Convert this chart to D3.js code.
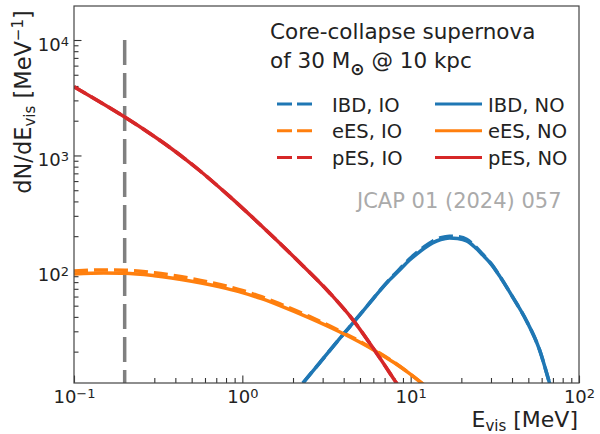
<!DOCTYPE html>
<meta http-equiv="content-type" content="text/html; charset=utf-8">
<style>
body { margin: 0; background: #fff; }
svg { font-family: "DejaVu Sans", sans-serif; }
.tick line { stroke: #333; stroke-width: 1.1; }
.curve { fill: none; stroke-width: 3.5; }
</style>
<body>
<div id="chart"></div>
<script src="https://d3js.org/d3.v7.min.js"></script>
<script>
// energies (MeV) and dN/dE (1/MeV)
var ibdE  = [2.29, 2.88, 3.95, 4.65, 5.71, 6.55, 7.5, 8.61, 9.86, 10.86, 12.1, 13.5, 15.1, 17.0, 19.0, 21.5, 24.0, 26.7, 30.3, 33.7, 40.3, 48.8, 58.3, 66.8, 71.6];
var ibdNO = [10.7, 16.0, 27.9, 36.9, 52.8, 67.1, 83.6, 102, 124.5, 140, 158, 175, 187, 193, 191, 182, 161, 138, 113, 90.6, 59.6, 36.9, 20.7, 10.7, 7.6];
var ibdIO = [10.7, 16.0, 27.9, 36.9, 52.8, 67.5, 84.5, 104, 127.5, 144, 163, 181, 194, 200, 198, 188, 165, 140, 114, 91, 59.6, 36.9, 20.7, 10.7, 7.6];

var eesE  = [0.1, 0.15, 0.2, 0.3, 0.5, 0.8, 1.0, 1.3, 1.7, 2.5, 3.8, 5.0, 6.3, 8.0, 10.0, 11.8, 12.5];
var eesNO = [94, 95.8, 95.5, 91.0, 81.3, 70.6, 64.9, 57.5, 49.6, 39.2, 29.6, 24.1, 19.9, 16.0, 12.7, 10.5, 9.8];
var eesIO = [100.1, 102, 101.5, 96.5, 85.8, 74.1, 67.8, 59.8, 51.3, 40.4, 30.2, 24.5, 20.1, 16.1, 12.7, 10.5, 9.8];

var pesE  = [0.1, 0.1427, 0.198, 0.2825, 0.3713, 0.456, 0.5595, 0.6868, 0.843, 1.27, 2.106, 3.306, 4.527, 5.951, 8.26, 9.21];
var pesNO = [3945, 2905, 2172, 1550, 1173, 936, 737, 572, 440, 253.7, 125, 64.4, 37.9, 21.7, 10.6, 8.34];
var pesIO = [3945, 2905, 2172, 1550, 1173, 936, 737, 572, 440, 253.7, 125, 64.4, 37.9, 21.7, 10.6, 8.34];

var thresholdE = 0.2;           // vertical dashed line
var thresholdTop = 1e4;

var xLim = [0.1, 100];
var yLim = [10.7, 19700];
var xMajor = [0.1, 1, 10, 100];
var yMajor = [100, 1000, 10000];

var legendRows = ["IBD", "eES", "pES"];
var colors = { IBD: "#1f77b4", eES: "#ff7f0e", pES: "#d62728" };

var width = 600, height = 434;
var mLeft = 74, mRight = 579, mTop = 6, mBottom = 383;

var svg = d3.select("#chart").append("svg")
    .attr("width", width)
    .attr("height", height);

var x = d3.scaleLog().domain(xLim).range([mLeft, mRight]);
var y = d3.scaleLog().domain(yLim).range([mBottom, mTop]);

function minors(lo, hi) {
  var out = [];
  for (var p = -2; p <= 5; p++) {
    for (var m = 2; m <= 9; m++) {
      var v = m * Math.pow(10, p);
      if (v > lo && v < hi) out.push(v);
    }
  }
  return out;
}

function expLabel(sel) {
  sel.each(function(d) {
    var t = d3.select(this);
    var e = Math.round(Math.log10(d));
    t.text(null);
    t.append("tspan").text("10");
    t.append("tspan").attr("font-size", "13px").attr("dy", -5)
      .text(e < 0 ? "\u2212" + (-e) : e);
  });
}

svg.append("clipPath").attr("id", "plot")
  .append("rect")
    .attr("x", mLeft).attr("y", mTop)
    .attr("width", mRight - mLeft).attr("height", mBottom - mTop);

// minor ticks
svg.append("g").attr("transform", "translate(0," + mBottom + ")")
  .call(d3.axisBottom(x).tickValues(minors(xLim[0], xLim[1])).tickSize(-5).tickFormat(""))
  .select(".domain").remove();
svg.append("g").attr("transform", "translate(" + mLeft + ",0)")
  .call(d3.axisLeft(y).tickValues(minors(yLim[0], yLim[1])).tickSize(-4.5).tickFormat(""))
  .select(".domain").remove();

// major ticks + labels
var gx = svg.append("g").attr("transform", "translate(0," + mBottom + ")")
  .call(d3.axisBottom(x).tickValues(xMajor).tickSize(-7.5))
  .attr("font-size", "18px").attr("font-family", null);
gx.select(".domain").remove();
gx.selectAll(".tick text").attr("y", 19.5).attr("dy", 0).attr("fill", "#222").call(expLabel);

var gy = svg.append("g").attr("transform", "translate(" + mLeft + ",0)")
  .call(d3.axisLeft(y).tickValues(yMajor).tickSize(-7.5))
  .attr("font-size", "18px").attr("font-family", null);
gy.select(".domain").remove();
gy.selectAll(".tick text").attr("x", -5).attr("dy", 10).attr("fill", "#222").call(expLabel);

// curves
var line = d3.line()
    .x(function(d) { return x(d[0]); })
    .y(function(d) { return y(d[1]); })
    .curve(d3.curveMonotoneX);

var series = [
  { key: "IBD", E: ibdE, IO: ibdIO, NO: ibdNO },
  { key: "eES", E: eesE, IO: eesIO, NO: eesNO },
  { key: "pES", E: pesE, IO: pesIO, NO: pesNO }
];

var plot = svg.append("g").attr("clip-path", "url(#plot)");

plot.append("line")
    .attr("x1", x(thresholdE)).attr("x2", x(thresholdE))
    .attr("y1", y(thresholdTop)).attr("y2", mBottom)
    .attr("stroke", "#808080")
    .attr("stroke-width", 3.5)
    .attr("stroke-dasharray", "25,8");

series.forEach(function(s) {
  plot.append("path")
    .attr("class", "curve")
    .attr("stroke", colors[s.key])
    .attr("stroke-dasharray", "14,6")
    .attr("d", line(s.E.map(function(e, i) { return [e, s.IO[i]]; })));
});
series.forEach(function(s) {
  plot.append("path")
    .attr("class", "curve")
    .attr("stroke", colors[s.key])
    .attr("d", line(s.E.map(function(e, i) { return [e, s.NO[i]]; })));
});

// frame
svg.append("rect")
    .attr("x", mLeft).attr("y", mTop)
    .attr("width", mRight - mLeft).attr("height", mBottom - mTop)
    .attr("fill", "none")
    .attr("stroke", "#444")
    .attr("stroke-width", 1.2);

// axis titles
var xt = svg.append("text")
    .attr("x", 578).attr("y", 427)
    .attr("text-anchor", "end")
    .attr("font-size", "22px")
    .attr("fill", "#222");
xt.append("tspan").text("E");
xt.append("tspan").attr("font-size", "15px").attr("dy", 4).text("vis");
xt.append("tspan").attr("dy", -4).text(" [MeV]");

var yt = svg.append("text")
    .attr("transform", "translate(31,102) rotate(-90)")
    .attr("text-anchor", "middle")
    .attr("font-size", "22.5px")
    .attr("fill", "#222");
yt.append("tspan").text("dN/dE");
yt.append("tspan").attr("font-size", "15px").attr("dy", 4).text("vis");
yt.append("tspan").attr("dy", -4).text(" [MeV");
yt.append("tspan").attr("font-size", "15px").attr("dy", -8).text("\u22121");
yt.append("tspan").attr("dy", 8).text("]");

// legend
var lg = svg.append("g").attr("fill", "#222");
lg.append("text").attr("x", 270).attr("y", 39).attr("font-size", "21.5px")
    .text("Core-collapse supernova");
var t2 = lg.append("text").attr("x", 270).attr("y", 68).attr("font-size", "21.5px");
t2.append("tspan").text("of 30 M");
t2.append("tspan").attr("font-size", "17px").attr("font-weight", "bold").attr("dy", 7).text("\u2299");
t2.append("tspan").attr("dy", -7).text(" @ 10 kpc");

legendRows.forEach(function(k, i) {
  var cy = 104 + i * 26.7;
  lg.append("line").attr("x1", 277).attr("x2", 312).attr("y1", cy).attr("y2", cy)
    .attr("stroke", colors[k]).attr("stroke-width", 3).attr("stroke-dasharray", "15,5");
  lg.append("text").attr("x", 332).attr("y", cy + 7.5).attr("font-size", "19.5px").text(k + ", IO");
  lg.append("line").attr("x1", 435).attr("x2", 482).attr("y1", cy).attr("y2", cy)
    .attr("stroke", colors[k]).attr("stroke-width", 3);
  lg.append("text").attr("x", 488).attr("y", cy + 7.5).attr("font-size", "19.5px").text(k + ", NO");
});

svg.append("text")
    .attr("x", 357).attr("y", 208)
    .attr("font-size", "21px")
    .attr("fill", "#aaa")
    .text("JCAP 01 (2024) 057");
</script>
</body>
</html>
